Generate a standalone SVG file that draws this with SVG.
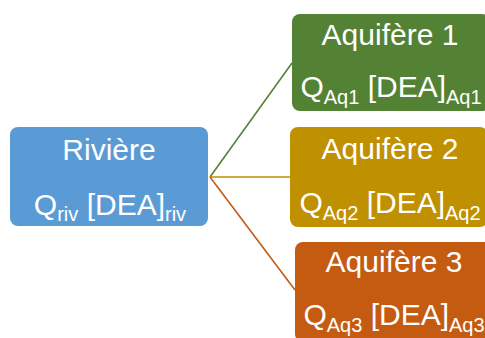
<svg xmlns="http://www.w3.org/2000/svg" width="485" height="338" viewBox="0 0 485 338">
<style>
.t{font-family:"Liberation Sans",Arial,sans-serif;font-size:30px;fill:#fff;text-anchor:middle}
.s{font-size:20px}
.c{fill:none;stroke-width:1.6}
</style>
<rect width="485" height="338" fill="#fff"/>
<g id="connectors">
<line class="c" x1="210" y1="177" x2="292" y2="63" stroke="#548235"/>
<line class="c" x1="210" y1="177" x2="290" y2="177" stroke="#BF9000"/>
<line class="c" x1="210" y1="177" x2="295" y2="290" stroke="#C55A11"/>
</g>
<g id="riviere">
<rect x="10" y="127" width="198" height="99" rx="8" fill="#5B9BD5"/>
<text class="t" x="109" y="160">Rivière</text>
<text class="t" x="110" y="215">Q<tspan class="s" dy="6">riv</tspan><tspan dy="-6"> [DEA]</tspan><tspan class="s" dy="6">riv</tspan></text>
</g>
<g id="aquifere1">
<rect x="292" y="14" width="198" height="97" rx="8" fill="#548235"/>
<text class="t" x="390" y="45">Aquifère 1</text>
<text class="t" x="391" y="97">Q<tspan class="s" dy="7">Aq1</tspan><tspan dy="-7"> [DEA]</tspan><tspan class="s" dy="7">Aq1</tspan></text>
</g>
<g id="aquifere2">
<rect x="290" y="127" width="198" height="100" rx="8" fill="#BF9000"/>
<text class="t" x="390" y="159">Aquifère 2</text>
<text class="t" x="390" y="213">Q<tspan class="s" dy="7">Aq2</tspan><tspan dy="-7"> [DEA]</tspan><tspan class="s" dy="7">Aq2</tspan></text>
</g>
<g id="aquifere3">
<rect x="295" y="242" width="198" height="100" rx="8" fill="#C55A11"/>
<text class="t" x="394" y="272">Aquifère 3</text>
<text class="t" x="394" y="325">Q<tspan class="s" dy="7">Aq3</tspan><tspan dy="-7"> [DEA]</tspan><tspan class="s" dy="7">Aq3</tspan></text>
</g>
</svg>
